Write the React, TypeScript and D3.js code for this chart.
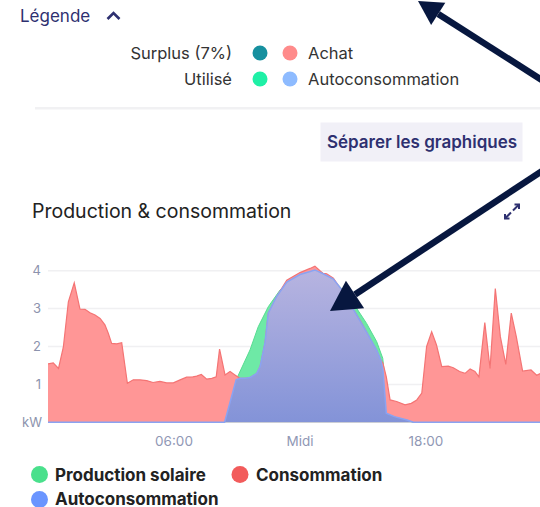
import React from 'react';
import * as d3 from 'd3';

// consumption (kW) by hour of day
const consHours = [0, 0.25, 0.5, 0.73, 0.97, 1.25, 1.52, 1.76, 2.0, 2.24, 2.48, 2.71, 2.87, 3.03, 3.27, 3.51, 3.78, 4.06, 4.38, 4.7, 5.0, 5.33, 5.65, 5.97, 6.29, 6.6, 6.9, 7.08, 7.3, 7.56, 7.8, 8.01, 8.17, 8.43, 8.67, 8.9, 9.14, 9.4, 9.62, 9.94, 10.1, 10.33, 10.49, 10.89, 11.37, 12.0, 12.48, 12.71, 12.95, 13.1, 13.27, 13.59, 13.9, 14.2, 14.54, 14.9, 15.17, 15.45, 15.65, 15.85, 15.95, 16.11, 16.29, 16.6, 17.0, 17.3, 17.56, 17.8, 18.03, 18.27, 18.5, 18.75, 19.06, 19.3, 19.6, 19.86, 20.1, 20.33, 20.52, 20.8, 21.05, 21.3, 21.54, 21.8, 22.06, 22.3, 22.6, 23.0, 23.27, 23.5, 23.75];
const consValues = [1.54, 1.57, 1.42, 1.98, 3.18, 3.68, 2.99, 2.98, 2.89, 2.83, 2.74, 2.57, 2.35, 2.08, 2.07, 2.1, 1.03, 1.12, 1.12, 1.1, 1.05, 1.08, 1.04, 1.04, 1.12, 1.19, 1.2, 1.22, 1.26, 1.14, 1.16, 1.2, 1.93, 1.25, 1.34, 1.25, 1.16, 1.16, 1.18, 1.29, 1.47, 2.08, 2.88, 3.32, 3.75, 3.95, 4.06, 4.12, 4.0, 3.93, 3.92, 3.8, 3.55, 3.35, 2.98, 2.65, 2.38, 2.1, 1.9, 1.64, 1.56, 1.2, 0.59, 0.55, 0.46, 0.5, 0.59, 0.77, 2.0, 2.39, 2.04, 1.47, 1.48, 1.44, 1.34, 1.29, 1.41, 1.34, 1.2, 2.63, 1.42, 3.53, 2.26, 1.53, 2.88, 2.26, 1.35, 1.38, 1.24, 1.3, 1.3];

// solar production (kW)
const prodHours = [0, 8.41, 8.96, 9.62, 10.01, 10.49, 11.05, 11.68, 12.32, 12.71, 13.27, 13.9, 14.54, 15.17, 15.65, 15.94, 16.0, 16.11, 16.5, 17.1, 17.4, 23.75];
const prodValues = [0, 0, 1.12, 1.91, 2.52, 3.05, 3.49, 3.84, 4.0, 4.02, 3.89, 3.58, 3.14, 2.61, 2.13, 1.69, 1.38, 0.24, 0.15, 0.06, 0, 0];

// self-consumption (kW)
const autoHours = [0, 8.41, 8.96, 9.14, 9.4, 9.62, 9.94, 10.1, 10.33, 10.49, 10.89, 11.37, 12.0, 12.48, 12.71, 13.1, 13.59, 14.2, 14.54, 15.17, 15.65, 15.85, 15.95, 16.11, 16.5, 17.1, 17.4, 23.75];
const autoValues = [0, 0, 1.12, 1.16, 1.16, 1.18, 1.29, 1.47, 2.08, 2.88, 3.32, 3.7, 3.9, 3.98, 4.02, 3.92, 3.78, 3.35, 2.98, 2.38, 1.9, 1.64, 1.38, 0.24, 0.15, 0.06, 0, 0];

const yTicks = [1, 2, 3, 4];
const xTicks = [6, 12, 18];
const xTickLabels = ['06:00', 'Midi', '18:00'];

const W = 540;
const H = 507;
const navy = '#2e3070';
const arrowColor = '#07173f';
const font = 'Inter, Roboto, sans-serif';

type Pt = [number, number];
const zip = (h: number[], v: number[]): Pt[] => h.map((d, i) => [d, v[i]]);

function Arrow({ x1, y1, x2, y2, head }: { x1: number; y1: number; x2: number; y2: number; head: number }) {
  const a = Math.atan2(y2 - y1, x2 - x1);
  const bx = x2 - head * Math.cos(a);
  const by = y2 - head * Math.sin(a);
  const px = Math.cos(a + Math.PI / 2) * head * 0.55;
  const py = Math.sin(a + Math.PI / 2) * head * 0.55;
  return (
    <g>
      <line x1={x1} y1={y1} x2={bx} y2={by} stroke={arrowColor} strokeWidth={6.5} />
      <polygon points={`${x2},${y2} ${bx + px},${by + py} ${bx - px},${by - py}`} fill={arrowColor} />
    </g>
  );
}

export default function App() {
  const x = d3.scaleLinear().domain([0, 24]).range([48, 552]);
  const y = d3.scaleLinear().domain([0, 4]).range([422.3, 270.7]);

  const area = d3.area<Pt>().x(d => x(d[0])).y0(y(0)).y1(d => y(d[1]));
  const line = d3.line<Pt>().x(d => x(d[0])).y(d => y(d[1]));

  const cons = zip(consHours, consValues);
  const prod = zip(prodHours, prodValues);
  const auto = zip(autoHours, autoValues);

  return (
    <svg width={W} height={H} style={{ position: 'absolute', left: 0, top: 0, fontFamily: font }}>
      <defs>
        <linearGradient id="autoGrad" x1="0" y1="0" x2="0" y2="1">
          <stop offset="0%" stopColor="#b7b4e0" />
          <stop offset="100%" stopColor="#8393d8" />
        </linearGradient>
        <clipPath id="plotClip">
          <rect x={48} y={200} width={W - 48} height={240} />
        </clipPath>
      </defs>
      <rect width={W} height={H} fill="#fff" />

      {/* legend header */}
      <text x={20} y={21.5} fontSize={17} fill={navy}>Légende</text>
      <polyline points="107.5,19 113.5,13 119.5,19" fill="none" stroke={navy} strokeWidth={2.6} />

      <text x={232} y={59} fontSize={16.5} fill="#333" textAnchor="end">Surplus (7%)</text>
      <circle cx={260} cy={53} r={7.5} fill="#16909f" />
      <circle cx={290} cy={53} r={7.5} fill="#ff8b8b" />
      <text x={308} y={59} fontSize={16.5} fill="#333">Achat</text>
      <text x={232} y={85} fontSize={16.5} fill="#333" textAnchor="end">Utilisé</text>
      <circle cx={260} cy={79} r={7.5} fill="#1ff0a6" />
      <circle cx={290} cy={79} r={7.5} fill="#8ebbff" />
      <text x={308} y={85} fontSize={16.5} fill="#333">Autoconsommation</text>

      <rect x={35} y={107} width={W - 35} height={2.5} fill="#f1f1f3" />

      <rect x={320.5} y={122.5} width={202} height={39} fill="#f1f0f7" />
      <text x={422} y={147.5} fontSize={17} fontWeight={600} fill={navy} textAnchor="middle">Séparer les graphiques</text>

      <text x={32} y={218} fontSize={19.5} fill="#222">Production &amp; consommation</text>
      <g stroke={navy} strokeWidth={2} fill="none">
        <line x1={513} y1={210.5} x2={519} y2={204.5} />
        <polyline points="514.5,204.5 519,204.5 519,209" />
        <line x1={511} y1={212.5} x2={505} y2={218.5} />
        <polyline points="505,214 505,218.5 509.5,218.5" />
      </g>

      {/* grid */}
      {yTicks.map(t => (
        <line key={t} x1={48} x2={W} y1={y(t)} y2={y(t)} stroke="#f0f0f2" strokeWidth={1.5} />
      ))}

      <g clipPath="url(#plotClip)">
        <path d={area(prod) ?? ''} fill="#6ee9a6" />
        <path d={line(prod) ?? ''} fill="none" stroke="#57dc91" strokeWidth={1} />
        <path d={area(cons) ?? ''} fill="#ff9696" />
        <path d={line(cons) ?? ''} fill="none" stroke="#f47474" strokeWidth={1.2} />
        <path d={area(auto) ?? ''} fill="url(#autoGrad)" />
        <path d={line(auto) ?? ''} fill="none" stroke="#8aa3f2" strokeWidth={1.5} />
      </g>

      {/* axes labels */}
      {yTicks.map(t => (
        <text key={t} x={41} y={y(t) + 4.5} fontSize={13} fill="#8c93ad" textAnchor="end">{t}</text>
      ))}
      <text x={42} y={y(0) + 4.5} fontSize={13} fill="#8c93ad" textAnchor="end">kW</text>
      {xTicks.map((t, i) => (
        <text key={t} x={x(t)} y={446} fontSize={13.5} fill="#9098b5" textAnchor="middle">{xTickLabels[i]}</text>
      ))}

      {/* bottom legend */}
      <circle cx={39.5} cy={474.5} r={8.5} fill="#4ae08c" />
      <text x={55} y={480.5} fontSize={17} fontWeight={700} fill="#222">Production solaire</text>
      <circle cx={240} cy={474.5} r={8.5} fill="#f25b5b" />
      <text x={256} y={480.5} fontSize={17} fontWeight={700} fill="#222">Consommation</text>
      <circle cx={39.5} cy={499.5} r={8.5} fill="#6a95ff" />
      <text x={55} y={505} fontSize={17} fontWeight={700} fill="#222">Autoconsommation</text>

      {/* annotation arrows */}
      <Arrow x1={548} y1={84} x2={418} y2={1} head={24} />
      <Arrow x1={548} y1={167} x2={330} y2={311} head={30} />
    </svg>
  );
}
